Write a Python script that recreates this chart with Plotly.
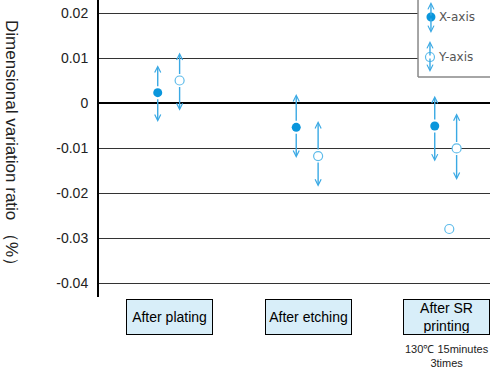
import plotly.graph_objects as go

# ---------------- data ----------------
categories = ["After plating", "After etching", "After SR<br>printing"]
x_mean = [0.0023, -0.0054, -0.0051]
x_hi = [0.0084, 0.0020, 0.0016]
x_lo = [-0.0042, -0.0122, -0.0130]
y_mean = [0.0050, -0.0118, -0.0101]
y_hi = [0.0112, -0.0040, -0.0023]
y_lo = [-0.0017, -0.0186, -0.0171]
y_outlier_cat = [2]
y_outlier_val = [-0.0280]
ytick_vals = [0.02, 0.01, 0, -0.01, -0.02, -0.03, -0.04]
ytick_text = ["0.02", "0.01", "0", "-0.01", "-0.02", "-0.03", "-0.04"]
cat_note = "130\u2103 15minutes<br>3times"
y_title = "Dimensional variation ratio \uff08%\uff09"
legend_names = ["X-axis", "Y-axis"]

# ---------------- style ----------------
BLUE = "#0A96DC"
ARROW = "#3AA9E4"
OPEN = "#5DBBEA"
BOXFILL = "#D8EEF9"
X_OFF = -0.085
Y_OFF = 0.073
idx = list(range(len(categories)))
xs = [i + X_OFF for i in idx]
ys = [i + Y_OFF for i in idx]

fig = go.Figure()
fig.add_trace(go.Scatter(x=xs, y=x_mean, mode="markers", name=legend_names[0],
                         marker=dict(size=9, color=BLUE, line=dict(width=0))))
fig.add_trace(go.Scatter(x=ys, y=y_mean, mode="markers", name=legend_names[1],
                         marker=dict(size=9, color="white", line=dict(width=1.2, color=OPEN))))
fig.add_trace(go.Scatter(x=[c + 0.02 for c in y_outlier_cat], y=y_outlier_val, mode="markers",
                         name=legend_names[1] + " (outlier)",
                         marker=dict(size=9, color="white", line=dict(width=1.2, color=OPEN))))

ann = []
def arrow(x, head, tail):
    return dict(x=x, y=head, ax=x, ay=tail, xref="x", yref="y", axref="x", ayref="y",
                showarrow=True, arrowhead=5, arrowsize=0.85, arrowwidth=1.4,
                arrowcolor=ARROW, startstandoff=5, text="")

for px, m, h, l in zip(xs, x_mean, x_hi, x_lo):
    ann.append(arrow(px, h, m))
    ann.append(arrow(px, l, m))
for px, m, h, l in zip(ys, y_mean, y_hi, y_lo):
    ann.append(arrow(px, h, m))
    ann.append(arrow(px, l, m))

# category boxes
for i, c in zip(idx, categories):
    ann.append(dict(x=i, y=-0.067, xref="x", yref="paper", text=c, showarrow=False,
                    bgcolor=BOXFILL, bordercolor="black", borderwidth=1, borderpad=1,
                    width=83, height=32, valign="middle", yanchor="middle",
                    font=dict(family="Liberation Sans, Arial", size=14, color="black")))
ann.append(dict(x=2, y=-0.197, xref="x", yref="paper", text=cat_note, showarrow=False,
                yanchor="middle",
                font=dict(family="Liberation Sans, Arial", size=11, color="#222")))

# axis title (reads top to bottom)
ann.append(dict(x=-0.2225, y=0.505, xref="paper", yref="paper", text=y_title, showarrow=False,
                textangle=90, xanchor="center", yanchor="middle",
                font=dict(family="Liberation Sans, Arial", size=17, color="#222")))

# legend
def leg_arrow(x, y, ay):
    return dict(x=x, y=y, ax=0, ay=ay, xref="paper", yref="paper", showarrow=True,
                arrowhead=5, arrowsize=0.85, arrowwidth=1.4, arrowcolor=ARROW, text="")
ann += [leg_arrow(0.849, 0.9933, 15), leg_arrow(0.849, 0.8889, -16),
        leg_arrow(0.8465, 0.862, 16), leg_arrow(0.8465, 0.7576, -15)]
ann.append(dict(x=0.8645, y=0.9428, xref="paper", yref="paper", text=legend_names[0],
                showarrow=False, xanchor="left", yanchor="middle",
                font=dict(family="DejaVu Sans", size=12, color="#555")))
ann.append(dict(x=0.862, y=0.808, xref="paper", yref="paper", text=legend_names[1],
                showarrow=False, xanchor="left", yanchor="middle",
                font=dict(family="DejaVu Sans", size=12, color="#555")))

shapes = [
    dict(type="rect", xref="paper", yref="paper", x0=0.8159, x1=1.0, y0=0.7407, y1=1.0,
         fillcolor="white", line=dict(width=0), layer="above"),
    dict(type="line", xref="paper", yref="paper", x0=0.8159, x1=0.8159, y0=0.7407, y1=1.0,
         line=dict(color="#888", width=1.5), layer="above"),
    dict(type="line", xref="paper", yref="paper", x0=0.8159, x1=1.0, y0=0.7407, y1=0.7407,
         line=dict(color="#888", width=1.5), layer="above"),
    dict(type="circle", xref="paper", yref="paper", xsizemode="pixel", ysizemode="pixel",
         xanchor=0.849, yanchor=0.9428, x0=-4.5, x1=4.5, y0=-4.5, y1=4.5,
         fillcolor=BLUE, line=dict(width=0), layer="above"),
    dict(type="circle", xref="paper", yref="paper", xsizemode="pixel", ysizemode="pixel",
         xanchor=0.8465, yanchor=0.808, x0=-4.5, x1=4.5, y0=-4.5, y1=4.5,
         fillcolor="white", line=dict(width=1.2, color=OPEN), layer="above"),
]

fig.update_layout(
    width=490, height=374, margin=dict(l=99, r=0, t=0, b=77),
    paper_bgcolor="white", plot_bgcolor="white", showlegend=False,
    annotations=ann, shapes=shapes,
    xaxis=dict(range=[-0.509, 2.314], showticklabels=False, showgrid=False,
               zeroline=False, showline=False),
    yaxis=dict(range=[-0.04311, 0.02289], tickvals=ytick_vals, ticktext=ytick_text,
               showgrid=True, gridcolor="#333", gridwidth=1.3,
               zeroline=True, zerolinecolor="black", zerolinewidth=2,
               showline=True, linecolor="black", linewidth=2, ticks="",
               ticklabelstandoff=6,
               tickfont=dict(family="Liberation Sans, Arial", size=14, color="#222")),
)

fig.write_html("out.html")
